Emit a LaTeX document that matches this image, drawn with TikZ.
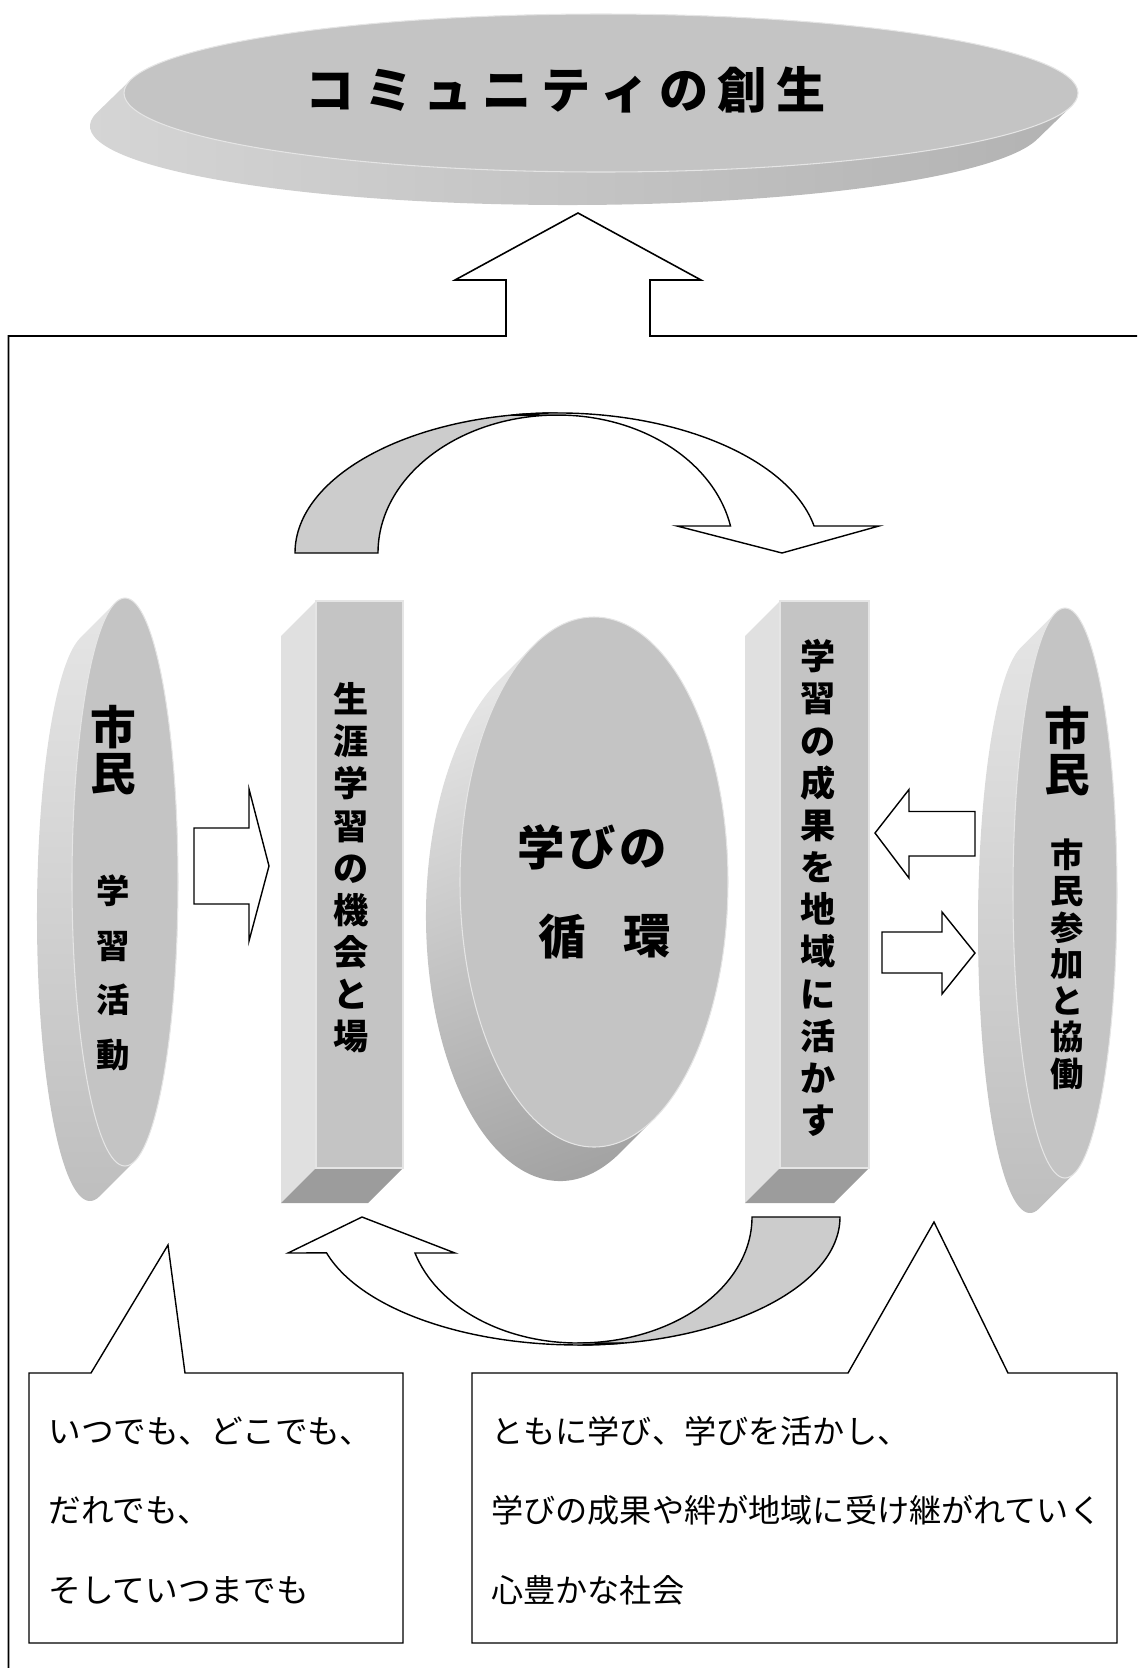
\documentclass[tikz,border=0pt]{standalone}
\usepackage{fontspec}
\setmainfont{Noto Sans CJK JP}
\definecolor{facegray}{HTML}{C4C4C4}
\definecolor{sidelt}{HTML}{E0E0E0}
\definecolor{sidedk}{HTML}{9C9C9C}
\definecolor{bandgray}{HTML}{CCCCCC}
\newcommand{\extdisk}[8]{%
  \pgfmathsetmacro{\dkA}{-atan((#4*#5)/(#3*#6))}%
  \pgfmathsetmacro{\dkB}{\dkA+180}%
  \pgfmathsetmacro{\dkC}{\dkA+360}%
  \pgfmathsetmacro{\dkD}{\dkA-180}%
  \pgfmathsetmacro{\dkX}{-(#5)}%
  \pgfmathsetmacro{\dkY}{-(#6)}%
  \path[#7] (#1,#2) ++(\dkB:#3 and #4) -- ++(#5,#6)
     arc[start angle=\dkB, end angle=\dkC, x radius=#3, y radius=#4]
     -- ++(\dkX,\dkY)
     arc[start angle=\dkA, end angle=\dkD, x radius=#3, y radius=#4] -- cycle;
  \path[#8] (#1,#2) ellipse[x radius=#3, y radius=#4];
}
\begin{document}
\begin{tikzpicture}[x=0.02cm,y=0.02cm,line join=miter]
\tikzset{
  blockarrow/.style={draw=black, fill=white, line width=0.8pt},
  bandfill/.style={draw=black, fill=bandgray, line width=0.8pt},
  facefill/.style={fill=facegray, draw=black!10, line width=0.6pt},
  vtext/.style={font=\bfseries\fontsize{20pt}{24pt}\selectfont, align=center, inner sep=0pt},
  ctextl/.style={font=\fontsize{18.6pt}{20pt}\selectfont, anchor=west, inner sep=0pt},
  ctextr/.style={font=\fontsize{18.3pt}{20pt}\selectfont, anchor=west, inner sep=0pt},
  sideshade/.style={top color=black!10, middle color=black!11, bottom color=black!26},
}
\useasboundingbox (0,0) rectangle (1137,-1668);

% ---- top ellipse
\extdisk{601}{-93}{477}{79}{-34}{-33}{left color=black!16, middle color=black!35, right color=black!30}{facefill}
\node[font=\bfseries\fontsize{28pt}{30pt}\selectfont, inner sep=0pt] (title) at (566,-90)
  {コ\hspace{5.5pt}ミ\hspace{5.5pt}ュ\hspace{5.5pt}ニ\hspace{5.5pt}テ\hspace{5.5pt}ィ\hspace{5.5pt}の\hspace{5.5pt}創\hspace{5.5pt}生};

% ---- frame with up arrow
\draw[line width=0.9pt] (8.5,-1668) -- (8.5,-336) -- (506,-336) -- (506,-280) -- (455,-280)
  -- (578,-213) -- (701,-280) -- (650,-280) -- (650,-336) -- (1137,-336);

% ---- left disk
\extdisk{125}{-882}{53}{284}{-35}{-35}{sideshade}{facefill}
\node[font=\bfseries\fontsize{26pt}{26pt}\selectfont, align=center, inner sep=0pt] (lcit) at (113,-750) {市\\民};
\node[font=\bfseries\fontsize{19pt}{31pt}\selectfont, align=center, inner sep=0pt] (lact) at (113,-973) {学\\習\\活\\動};

% ---- right disk
\extdisk{1065}{-893}{52}{285}{-35}{-35}{sideshade}{facefill}
\node[font=\bfseries\fontsize{26pt}{26pt}\selectfont, align=center, inner sep=0pt] (rcit) at (1067,-751) {市\\民};
\node[font=\bfseries\fontsize{19pt}{20.8pt}\selectfont, align=center, inner sep=0pt] (ract) at (1067,-964) {市\\民\\参\\加\\と\\協\\働};

% ---- center disk
\extdisk{594}{-882}{134}{265}{-34}{-34}{top color=black!10, middle color=black!12, bottom color=black!36, shading angle=20}{facefill}
\node[font=\bfseries\fontsize{27pt}{30pt}\selectfont, inner sep=0pt] (manabi) at (592,-847) {学\hspace{2pt}び\hspace{2pt}の};
\node[font=\bfseries\fontsize{27pt}{30pt}\selectfont, inner sep=0pt] (jun) at (562,-936) {循};
\node[font=\bfseries\fontsize{27pt}{30pt}\selectfont, inner sep=0pt] (kan) at (647,-936) {環};

% ---- left pillar
\fill[sidelt] (316,-601) -- (281,-636) -- (281,-1203) -- (316,-1168) -- cycle;
\fill[sidedk] (316,-1168) -- (403,-1168) -- (368,-1203) -- (281,-1203) -- cycle;
\path[facefill] (316,-601) rectangle (403,-1168);
\node[vtext] (lpil) at (351,-868) {生\\涯\\学\\習\\の\\機\\会\\と\\場};

% ---- right pillar
\fill[sidelt] (780,-601) -- (745,-636) -- (745,-1203) -- (780,-1168) -- cycle;
\fill[sidedk] (780,-1168) -- (869,-1168) -- (834,-1203) -- (745,-1203) -- cycle;
\path[facefill] (780,-601) rectangle (869,-1168);
\node[vtext] (rpil) at (818,-888) {学\\習\\の\\成\\果\\を\\地\\域\\に\\活\\か\\す};

% ---- block arrows
\draw[blockarrow] (194,-828) -- (249,-828) -- (249,-789) -- (269,-866) -- (249,-941) -- (249,-904) -- (194,-904) -- cycle;
\draw[blockarrow] (975,-811.5) -- (909,-811.5) -- (909,-789.5) -- (875,-833) -- (909,-878) -- (909,-856) -- (975,-856) -- cycle;
\draw[blockarrow] (882,-932) -- (942,-932) -- (942,-912) -- (975,-953) -- (942,-994) -- (942,-973) -- (882,-973) -- cycle;

% ---- top curved arrow
\filldraw[bandfill] (295,-553) arc[start angle=180, end angle=90, x radius=262, y radius=140]
  -- (558,-415) arc[start angle=90, end angle=180, x radius=180, y radius=138] -- cycle;
\filldraw[blockarrow] (730.5,-526) arc[start angle=11.3, end angle=90, x radius=176, y radius=138]
  -- (511.5,-415.1) arc[start angle=100, end angle=11.1, x radius=262, y radius=140]
  -- (879,-526) -- (782,-553) -- (677,-526) -- cycle;

% ---- bottom curved arrow
\filldraw[bandfill] (840,-1217) arc[start angle=0, end angle=-90, x radius=262, y radius=128]
  -- (578,-1343) arc[start angle=-90, end angle=0, x radius=174, y radius=126] -- cycle;
\filldraw[blockarrow] (415,-1253) arc[start angle=196.6, end angle=270, x radius=170, y radius=126]
  -- (623.5,-1343) arc[start angle=280, end angle=196.3, x radius=262, y radius=128]
  -- (288,-1253) -- (362,-1217) -- (455,-1253) -- cycle;

% ---- callouts
\draw[blockarrow] (29,-1373) -- (91,-1373) -- (168,-1245) -- (185,-1373) -- (403,-1373) -- (403,-1643) -- (29,-1643) -- cycle;
\draw[blockarrow] (472,-1373) -- (848,-1373) -- (934,-1222) -- (1008,-1373) -- (1117,-1373) -- (1117,-1643) -- (472,-1643) -- cycle;

\node[ctextl] (l1) at (48,-1431) {いつでも、どこでも、};
\node[ctextl] (l2) at (48,-1510) {だれでも、};
\node[ctextl] (l3) at (48,-1590) {そしていつまでも};
\node[ctextr] (r1) at (491,-1431) {ともに学び、学びを活かし、};
\node[ctextr] (r2) at (491,-1510) {学びの成果や絆が地域に受け継がれていく};
\node[ctextr] (r3) at (491,-1590) {心豊かな社会};
\end{tikzpicture}
\end{document}
